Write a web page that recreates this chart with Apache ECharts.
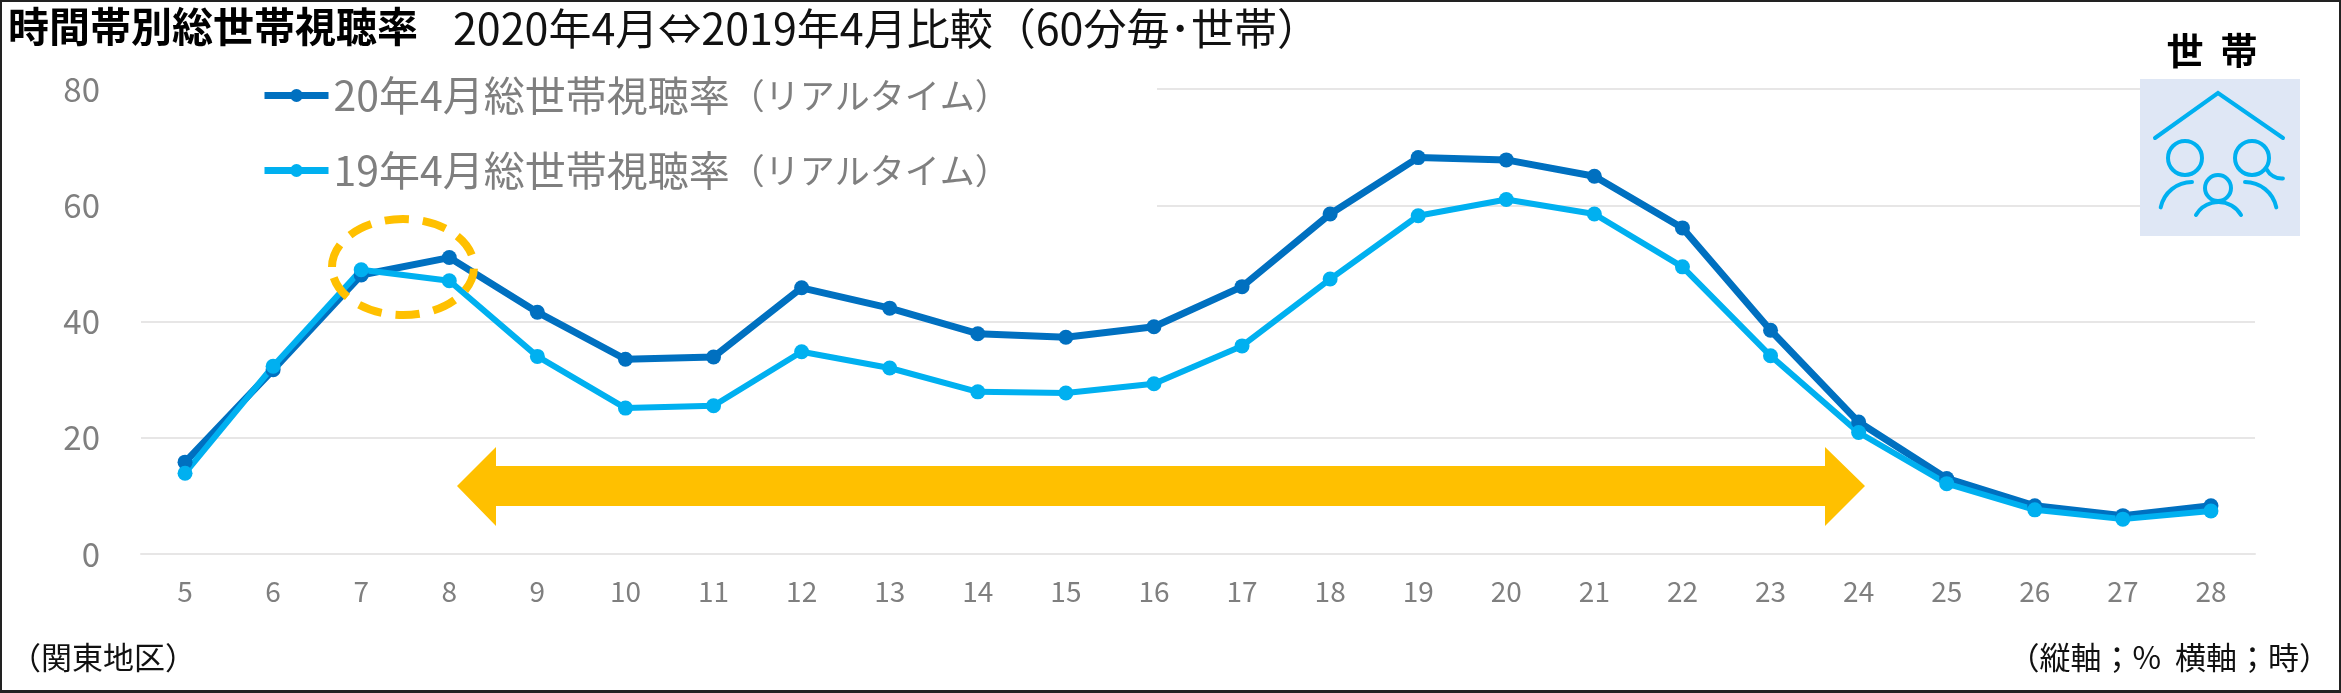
<!DOCTYPE html>
<html>
<head>
<meta charset="utf-8">
<style>
html, body { margin: 0; padding: 0; background: #fff; }
#chart { width: 2341px; height: 693px; }
</style>
<script src="https://cdn.jsdelivr.net/npm/echarts@6/dist/echarts.min.js"></script>
</head>
<body>
<div id="chart"></div>
<script>
var hours = ['5','6','7','8','9','10','11','12','13','14','15','16','17','18','19','20','21','22','23','24','25','26','27','28'];
var rating2020 = [15.8,31.7,48.0,51.0,41.6,33.5,33.9,45.8,42.3,37.9,37.3,39.1,46.0,58.5,68.2,67.8,65.0,56.1,38.5,22.7,13.0,8.3,6.6,8.3];
var rating2019 = [13.9,32.3,48.9,47.0,34.0,25.1,25.5,34.8,32.0,27.9,27.7,29.3,35.8,47.3,58.2,61.0,58.5,49.4,34.1,20.9,12.1,7.6,6.0,7.4];
var name2020 = '20年4月総世帯視聴率（リアルタイム）';
var name2019 = '19年4月総世帯視聴率（リアルタイム）';

var font = '"Noto Sans CJK JP", "Noto Sans", sans-serif';
var gray = '#7F7F7F';
var dark = '#0070C0';
var light = '#00B0F0';
var amber = '#FFC000';
var iconLine = { stroke: light, lineWidth: 4, fill: null, lineCap: 'round' };

function lineSeries(name, data, color, width) {
    return {
        name: name,
        type: 'line',
        data: data,
        symbol: 'circle',
        symbolSize: 15,
        lineStyle: { color: color, width: width },
        itemStyle: { color: color }
    };
}

function note(text, x, y, align) {
    return {
        type: 'text',
        x: x,
        y: y,
        style: { text: text, fill: '#111', font: '31px ' + font, align: align, verticalAlign: 'middle' }
    };
}

function iconArc(cx, cy, r, startDeg, endDeg) {
    return {
        type: 'arc',
        shape: { cx: cx, cy: cy, r: r, startAngle: startDeg * Math.PI / 180, endAngle: endDeg * Math.PI / 180, clockwise: true },
        style: iconLine
    };
}

var overlay = [
    // white box behind the legend, it hides the grid lines there
    { type: 'rect', shape: { x: 130, y: 78, width: 1027, height: 134 }, style: { fill: '#fff' } },
    // range arrow and the dashed ring
    { type: 'polygon', shape: { points: [[457,486],[496,447],[496,466],[1825,466],[1825,447],[1865,486],[1825,526],[1825,506],[496,506],[496,526]] }, style: { fill: amber } },
    { type: 'ellipse', shape: { cx: 403, cy: 267, rx: 71, ry: 48 }, style: { fill: null, stroke: amber, lineWidth: 8, lineDash: [24, 14] } },
    note('（関東地区）', 10, 657, 'left'),
    note('（縦軸；%  横軸；時）', 2330, 657, 'right'),
    // household icon
    { type: 'text', x: 2212, y: 51, style: { text: '世  帯', fill: '#000', font: 'bold 37px ' + font, align: 'center', verticalAlign: 'middle' } },
    { type: 'rect', shape: { x: 2140, y: 79, width: 160, height: 157 }, style: { fill: '#DFE7F5' } },
    { type: 'polyline', shape: { points: [[2155,138],[2218,93],[2283,138]] }, style: iconLine },
    { type: 'circle', shape: { cx: 2185, cy: 158, r: 17 }, style: iconLine },
    { type: 'circle', shape: { cx: 2252, cy: 158, r: 17 }, style: iconLine },
    { type: 'circle', shape: { cx: 2218, cy: 188, r: 13 }, style: iconLine },
    iconArc(2282, 161, 17.5, 87, 152),
    iconArc(2192, 214, 32, 192, 270),
    iconArc(2245, 214, 32, 270, 348),
    iconArc(2218.5, 228, 26, 210, 330),
    // frame
    { type: 'rect', shape: { x: 0.5, y: 0.5, width: 2340, height: 691 }, style: { fill: null, stroke: '#222', lineWidth: 3 } }
];
overlay.forEach(function (el) {
    el.z = 5;
});

var chart = echarts.init(document.getElementById('chart'));

chart.setOption({
    animation: false,
    backgroundColor: '#fff',
    title: [
        { text: '時間帯別総世帯視聴率', left: 8, top: 6, padding: 0, textStyle: { fontFamily: font, fontSize: 41, fontWeight: 'bold', color: '#000' } },
        { text: '2020年4月⇔2019年4月比較（60分毎･世帯）', left: 453, top: 7, padding: 0, textStyle: { fontFamily: font, fontSize: 43, fontWeight: 'normal', color: '#111' } }
    ],
    legend: {
        orient: 'vertical',
        left: 256,
        top: 70,
        z: 10,
        itemWidth: 64,
        itemHeight: 16,
        itemGap: 34,
        symbolSize: 15,
        lineStyle: { width: 7 },
        data: [name2020, name2019],
        formatter: function (name) {
            var cut = name.indexOf('（');
            return '{a|' + name.slice(0, cut) + '}{b|' + name.slice(cut) + '}';
        },
        textStyle: {
            color: gray,
            rich: {
                a: { fontFamily: font, fontSize: 41, color: gray, height: 56 },
                b: { fontFamily: font, fontSize: 35, color: gray, height: 56 }
            }
        }
    },
    grid: { left: 141, right: 86, top: 89, height: 465 },
    xAxis: {
        type: 'category',
        data: hours,
        axisTick: { show: false },
        axisLine: { lineStyle: { color: '#E7E6E6', width: 2 } },
        axisLabel: { color: gray, fontFamily: font, fontSize: 28, margin: 23 }
    },
    yAxis: {
        type: 'value',
        min: 0,
        max: 80,
        interval: 20,
        axisLine: { show: false },
        axisTick: { show: false },
        splitLine: { lineStyle: { color: '#E7E6E6', width: 2 } },
        axisLabel: { color: gray, fontFamily: font, fontSize: 33, margin: 41 }
    },
    series: [
        lineSeries(name2020, rating2020, dark, 7),
        lineSeries(name2019, rating2019, light, 6)
    ],
    graphic: { elements: overlay }
});
</script>
</body>
</html>
